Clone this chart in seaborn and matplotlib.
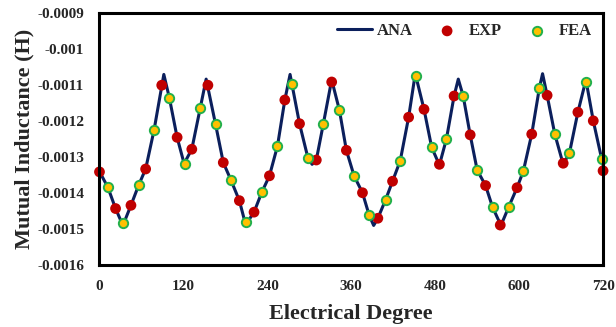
import matplotlib
matplotlib.use("Agg")
import matplotlib.pyplot as plt
import seaborn as sns
import pandas as pd

# values
ana_deg = [0, 12, 23, 33.5, 45, 56, 66, 78, 92, 100, 111, 121, 132, 144, 152.5,
           166, 177, 188, 200, 209, 221, 232, 243, 254.5, 265, 272.5, 286, 298,
           304, 310, 320, 332, 343, 353, 364, 376, 385.5, 392, 398, 409, 419, 430,
           442, 451.5, 464, 475, 486, 496, 507, 513, 520, 530, 540, 552, 562, 574,
           585, 597, 606, 618, 629, 633.5, 640, 651, 663, 672, 684, 695.5, 706,
           718, 720]
ana_val = [-0.001340, -0.001384, -0.001443, -0.001490, -0.001434, -0.001378,
           -0.001333, -0.001225, -0.001070, -0.001136, -0.001245, -0.001318,
           -0.001278, -0.001164, -0.001083, -0.001209, -0.001315, -0.001364,
           -0.001421, -0.001488, -0.001453, -0.001398, -0.001352, -0.001269,
           -0.001141, -0.001070, -0.001207, -0.001302, -0.001320, -0.001308,
           -0.001208, -0.001085, -0.001169, -0.001281, -0.001352, -0.001399,
           -0.001461, -0.001490, -0.001470, -0.001419, -0.001367, -0.001310,
           -0.001189, -0.001068, -0.001167, -0.001273, -0.001322, -0.001250,
           -0.001130, -0.001083, -0.001130, -0.001238, -0.001336, -0.001379,
           -0.001439, -0.001490, -0.001439, -0.001385, -0.001339, -0.001236,
           -0.001107, -0.001068, -0.001128, -0.001236, -0.001320, -0.001288,
           -0.001175, -0.001085, -0.001199, -0.001305, -0.001322]

exp_deg = [0, 23, 45, 66, 89, 111, 132, 155, 177, 200, 221, 243, 265, 286, 310,
           332, 353, 376, 398, 419, 442, 464, 486, 507, 530, 552, 573, 597, 618,
           640, 663, 684, 706, 720]
exp_val = [-0.001341, -0.001443, -0.001434, -0.001333, -0.001100, -0.001245,
           -0.001278, -0.001100, -0.001315, -0.001421, -0.001453, -0.001352,
           -0.001141, -0.001207, -0.001308, -0.001091, -0.001281, -0.001399,
           -0.001470, -0.001367, -0.001189, -0.001167, -0.001320, -0.001130,
           -0.001238, -0.001379, -0.001489, -0.001385, -0.001236, -0.001128,
           -0.001317, -0.001175, -0.001199, -0.001338]

fea_deg = [12, 33, 56, 78, 100, 122, 144, 166, 188, 209, 232, 254, 275, 298, 320,
           343, 364, 386, 409, 430, 452, 475, 496, 520, 540, 562, 585, 606, 629,
           651, 672, 695, 718]
fea_val = [-0.001384, -0.001482, -0.001378, -0.001225, -0.001136, -0.001320,
           -0.001164, -0.001209, -0.001364, -0.001480, -0.001398, -0.001269,
           -0.001097, -0.001302, -0.001208, -0.001169, -0.001352, -0.001461,
           -0.001419, -0.001310, -0.001075, -0.001273, -0.001250, -0.001130,
           -0.001336, -0.001439, -0.001439, -0.001339, -0.001107, -0.001236,
           -0.001288, -0.001092, -0.001305]

x_ticks = [0, 120, 240, 360, 480, 600, 720]
y_ticks = [-0.0016, -0.0015, -0.0014, -0.0013, -0.0012, -0.0011, -0.001, -0.0009]
y_tick_labels = ["-0.0016", "-0.0015", "-0.0014", "-0.0013", "-0.0012",
                 "-0.0011", "-0.001", "-0.0009"]

sns.set_style("white")
plt.rcParams["font.family"] = ["Liberation Serif", "DejaVu Serif"]
plt.rcParams["font.weight"] = "bold"

ana = pd.DataFrame({"deg": ana_deg, "val": ana_val})
exp = pd.DataFrame({"deg": exp_deg, "val": exp_val})
fea = pd.DataFrame({"deg": fea_deg, "val": fea_val})

fig = plt.figure(figsize=(6.16, 3.27), dpi=100)
ax = fig.add_axes([0.1615, 0.1896, 0.8175, 0.7697])

sns.lineplot(data=ana, x="deg", y="val", ax=ax, color="#0B1F5C", lw=2.2,
             label="ANA", zorder=2)
sns.scatterplot(data=exp, x="deg", y="val", ax=ax, color="#C00000", s=60,
                edgecolor="none", label="EXP", zorder=3, clip_on=False)
sns.scatterplot(data=fea, x="deg", y="val", ax=ax, color="#FFC000", s=45,
                edgecolor="#22B04C", linewidth=1.4, label="FEA", zorder=4,
                clip_on=False)

ax.set_xlim(0, 720)
ax.set_ylim(-0.0016, -0.0009)
ax.set_xticks(x_ticks)
ax.set_xticklabels([str(t) for t in x_ticks], fontsize=11, fontweight="bold")
ax.set_yticks(y_ticks)
ax.set_yticklabels(y_tick_labels, fontsize=11, fontweight="bold")
ax.tick_params(axis="x", length=0, pad=10.5)
ax.tick_params(axis="y", length=0, pad=11)

ax.set_xlabel("Electrical Degree", fontsize=16, fontweight="bold", labelpad=8)
ax.set_ylabel("Mutual Inductance (H)", fontsize=16, fontweight="bold", labelpad=2)

for sp in ax.spines.values():
    sp.set_linewidth(2.2)
    sp.set_color("black")
    sp.set_zorder(5)

ax.legend(loc="upper right", ncol=3, frameon=False,
          prop={"weight": "bold", "size": 12}, handlelength=2.15,
          columnspacing=1.0, handletextpad=0.25, bbox_to_anchor=(1.008, 1.02))

fig.savefig("out.png", dpi=100)
